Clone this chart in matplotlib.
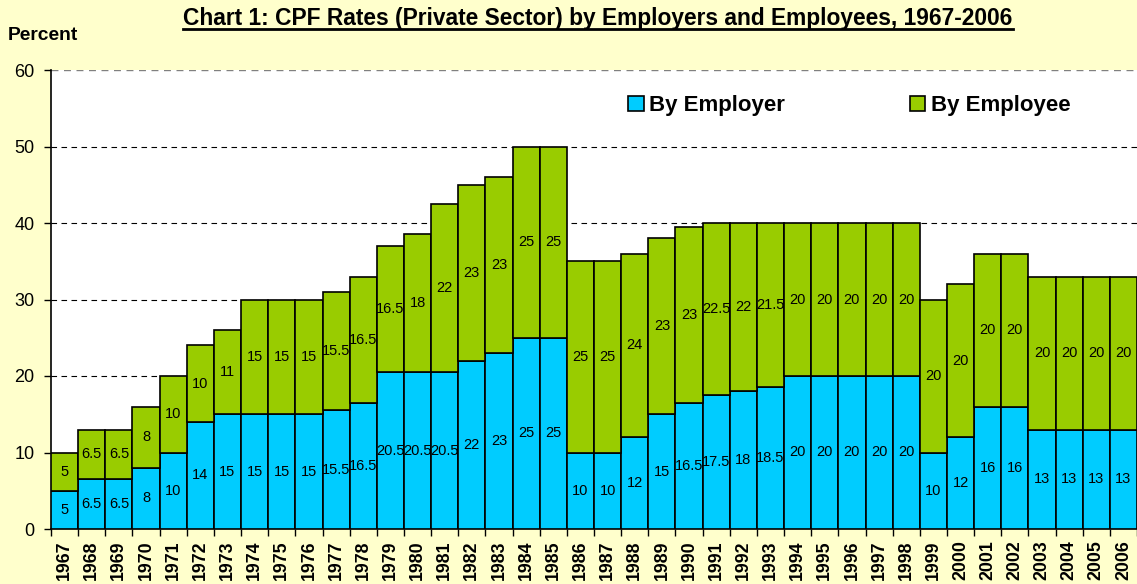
import matplotlib.pyplot as plt
import numpy as np
from matplotlib.lines import Line2D

plt.rcParams.update({
    "font.family": ["Liberation Sans", "DejaVu Sans"],
})

years = [str(y) for y in range(1967, 2007)]
employer = [5, 6.5, 6.5, 8, 10, 14, 15, 15, 15, 15, 15.5, 16.5, 20.5, 20.5, 20.5,
            22, 23, 25, 25, 10, 10, 12, 15, 16.5, 17.5, 18, 18.5, 20, 20, 20,
            20, 20, 10, 12, 16, 16, 13, 13, 13, 13]
employee = [5, 6.5, 6.5, 8, 10, 10, 11, 15, 15, 15, 15.5, 16.5, 16.5, 18, 22,
            23, 23, 25, 25, 25, 25, 24, 23, 23, 22.5, 22, 21.5, 20, 20, 20,
            20, 20, 20, 20, 20, 20, 20, 20, 20, 20]
yticks = [0, 10, 20, 30, 40, 50, 60]

BG = "#FFFFCC"
C_ER = "#00CCFF"
C_EE = "#99CC00"


def fmt(v):
    return f"{v:g}"


fig = plt.figure(figsize=(11.37, 5.84), dpi=100, facecolor=BG)
ax = fig.add_axes([51 / 1137, 1 - 529 / 584, 1 - 51 / 1137, (529 - 70) / 584])
ax.set_facecolor("white")

x = np.arange(len(years))
er = np.array(employer)
ee = np.array(employee)
ax.bar(x, er, width=1.0, color=C_ER, edgecolor="black", linewidth=1.2,
       label="By Employer", zorder=3)
ax.bar(x, ee, width=1.0, bottom=er, color=C_EE, edgecolor="black",
       linewidth=1.2, label="By Employee", zorder=3)

for i in range(len(years)):
    ax.text(x[i], er[i] / 2, fmt(er[i]), ha="center", va="center",
            fontsize=10.5, zorder=4)
    ax.text(x[i], er[i] + ee[i] / 2, fmt(ee[i]), ha="center", va="center",
            fontsize=10.5, zorder=4)

ax.set_xlim(-0.5, len(years) - 0.5)
ax.set_ylim(0, 60)
ax.set_yticks(yticks)
ax.set_yticklabels([str(t) for t in yticks], fontsize=13)
for t in yticks[1:-1]:
    ax.axhline(t, color="black", linestyle=(0, (5, 4)), linewidth=0.8, zorder=1)
ax.axhline(60, color="#808080", linestyle=(0, (5, 4)), linewidth=1.0, zorder=1)

ax.set_xticks(x)
ax.set_xticklabels(years, rotation=90, fontsize=12.8, fontweight="bold")
ax.set_xticks(np.arange(-0.5, len(years), 1.0), minor=True)
ax.tick_params(axis="x", which="major", length=0, pad=8)
ax.tick_params(axis="x", which="minor", length=5, width=1, direction="out")
ax.tick_params(axis="y", length=5, width=1, direction="out", pad=7)

for s in ("top", "right"):
    ax.spines[s].set_visible(False)
ax.spines["left"].set_linewidth(1.2)
ax.spines["bottom"].set_linewidth(1.2)

ax.legend(loc="center left", bbox_to_anchor=(0.513, 0.922), ncol=2, frameon=False,
          prop={"size": 16, "weight": "bold"}, handlelength=0.7, handleheight=0.7,
          handletextpad=0.25, columnspacing=5.6)

fig.text(8 / 1137, 1 - 35 / 584, "Percent", fontsize=13.9, fontweight="bold",
         va="center", ha="left")
title = fig.text(598 / 1137, 1 - 19 / 584,
                 "Chart 1: CPF Rates (Private Sector) by Employers and Employees, 1967-2006",
                 fontsize=16.4, fontweight="bold", ha="center", va="center")

# underline the title
fig.canvas.draw()
bb = title.get_window_extent(fig.canvas.get_renderer())
W, H = fig.bbox.width, fig.bbox.height
yline = (1 - 29 / 584)
fig.add_artist(Line2D([bb.x0 / W, bb.x1 / W], [yline, yline], color="black",
                      linewidth=2.0, transform=fig.transFigure))

fig.savefig("out.png", dpi=100, facecolor=BG)
